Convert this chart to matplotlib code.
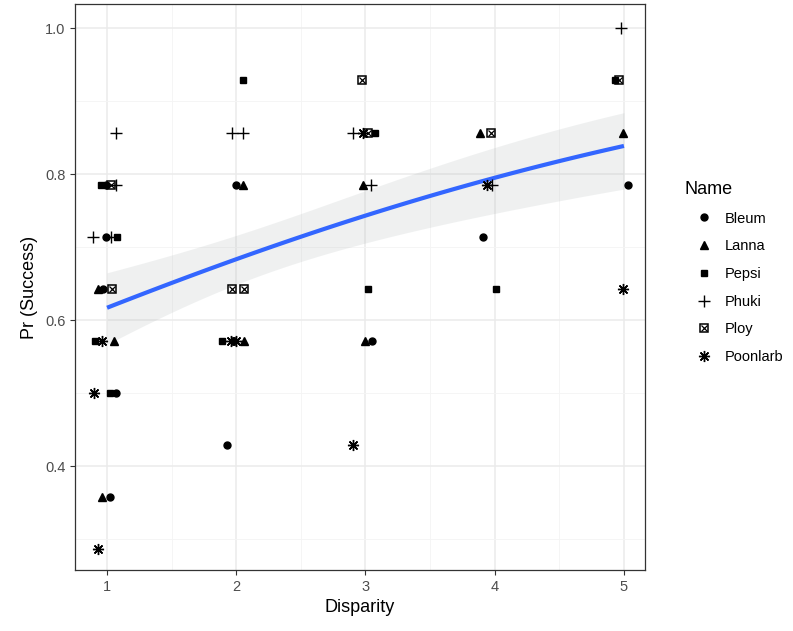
import matplotlib
matplotlib.use("Agg")
import matplotlib.pyplot as plt
import numpy as np
from matplotlib.lines import Line2D
from matplotlib.legend_handler import HandlerTuple

plt.rcParams['font.family'] = ['Liberation Sans', 'DejaVu Sans']

# jittered disparity / proportion of successes (out of 14 trials), per subject
bleum_x = [0.99, 0.99, 0.97, 1.07, 1.02, 2.00, 1.93, 3.05, 3.91, 5.03]
bleum_y = [0.786, 0.714, 0.643, 0.500, 0.357, 0.786, 0.429, 0.571, 0.714, 0.786]
lanna_x = [0.93, 1.05, 0.96, 2.05, 2.06, 2.98, 3.00, 3.89, 4.99]
lanna_y = [0.643, 0.571, 0.357, 0.786, 0.571, 0.786, 0.571, 0.857, 0.857]
pepsi_x = [0.95, 1.08, 0.91, 1.02, 2.05, 1.89, 3.07, 3.02, 4.01, 4.93]
pepsi_y = [0.786, 0.714, 0.571, 0.500, 0.929, 0.571, 0.857, 0.643, 0.643, 0.929]
phuki_x = [1.07, 1.07, 0.89, 1.03, 1.97, 2.05, 2.90, 3.04, 3.98, 4.98]
phuki_y = [0.857, 0.786, 0.714, 0.714, 0.857, 0.857, 0.857, 0.786, 0.786, 1.000]
ploy_x = [1.03, 1.04, 1.97, 2.06, 2.97, 3.02, 3.97, 4.96]
ploy_y = [0.786, 0.643, 0.643, 0.643, 0.929, 0.857, 0.857, 0.929]
poon_x = [0.96, 0.90, 0.93, 1.96, 2.00, 2.90, 2.98, 3.94, 4.99]
poon_y = [0.571, 0.500, 0.286, 0.571, 0.571, 0.429, 0.857, 0.786, 0.643]
n_trials = 14

names = ["Bleum", "Lanna", "Pepsi", "Phuki", "Ploy", "Poonlarb"]
xs = [bleum_x, lanna_x, pepsi_x, phuki_x, ploy_x, poon_x]
ys = [bleum_y, lanna_y, pepsi_y, phuki_y, ploy_y, poon_y]

fig = plt.figure(figsize=(7.93, 6.31), dpi=100)
ax = fig.add_axes([75 / 793, 1 - 570 / 631, 570 / 793, 566 / 631])

# logistic regression (binomial glm) on rounded disparity, like geom_smooth
X = np.round(np.concatenate(xs))
Y = np.concatenate(ys)
A = np.column_stack([np.ones_like(X), X])
beta = np.zeros(2)
for _ in range(30):
    eta = A @ beta
    p = 1 / (1 + np.exp(-eta))
    W = n_trials * p * (1 - p)
    z = eta + (Y - p) / (p * (1 - p))
    cov = np.linalg.inv(A.T @ (A * W[:, None]))
    beta = cov @ (A.T @ (W * z))
xg = np.linspace(1, 5, 80)
Ag = np.column_stack([np.ones_like(xg), xg])
eta_g = Ag @ beta
se = np.sqrt(np.einsum('ij,jk,ik->i', Ag, cov, Ag))
inv = lambda e: 1 / (1 + np.exp(-e))
ax.fill_between(xg, inv(eta_g - 1.96 * se), inv(eta_g + 1.96 * se),
                color='#A8B0B0', alpha=0.18, lw=0, zorder=2)
ax.plot(xg, inv(eta_g), color='#3366FF', lw=3, zorder=3, solid_capstyle='butt')

k = dict(color='black', linestyle='none', zorder=4)
ax.plot(bleum_x, bleum_y, marker='o', ms=5, **k)
ax.plot(lanna_x, lanna_y, marker='^', ms=6, **k)
ax.plot(pepsi_x, pepsi_y, marker='s', ms=5, **k)
ax.plot(phuki_x, phuki_y, marker='+', ms=8, mew=1, **k)
ax.plot(ploy_x, ploy_y, marker='s', ms=6, mfc='none', mew=1.1, **k)
ax.plot(ploy_x, ploy_y, marker='x', ms=5, mew=0.9, **k)
ax.plot(poon_x, poon_y, marker=(8, 2, 0), ms=8, mew=1, **k)

ax.set_xlim(0.752, 5.163)
ax.set_ylim(0.2575, 1.0335)
ax.set_xticks([1, 2, 3, 4, 5])
ax.set_yticks([0.4, 0.6, 0.8, 1.0])
ax.set_xticks([1.5, 2.5, 3.5, 4.5], minor=True)
ax.set_yticks([0.3, 0.5, 0.7, 0.9], minor=True)
ax.set_yticklabels(["0.4", "0.6", "0.8", "1.0"])
ax.grid(True, which='major', color='#EBEBEB', lw=1.1)
ax.grid(True, which='minor', color='#F4F4F4', lw=0.6)
ax.set_axisbelow(True)
ax.tick_params(which='major', length=3.5, width=0.8, color='#333333',
               labelcolor='#4D4D4D', labelsize=10.5)
ax.tick_params(which='minor', length=0)
for s in ax.spines.values():
    s.set_color('#333333')
    s.set_linewidth(0.9)
ax.set_xlabel("Disparity", fontsize=13, labelpad=4)
ax.set_ylabel("Pr (Success)", fontsize=13, labelpad=5)

hk = dict(color='black', linestyle='none')
handles = [
    Line2D([], [], marker='o', ms=5, **hk),
    Line2D([], [], marker='^', ms=6, **hk),
    Line2D([], [], marker='s', ms=5, **hk),
    Line2D([], [], marker='+', ms=8, mew=1, **hk),
    (Line2D([], [], marker='s', ms=6, mfc='none', mew=1.1, **hk),
     Line2D([], [], marker='x', ms=5, mew=0.9, **hk)),
    Line2D([], [], marker=(8, 2, 0), ms=8, mew=1, **hk),
]
leg = fig.legend(handles, names, loc='upper left', bbox_to_anchor=(679 / 793, 1 - 175 / 631),
                 frameon=False, title="Name", alignment='left', fontsize=10.5,
                 title_fontsize=13, labelspacing=0.94, handlelength=2.6,
                 handletextpad=0.15, borderaxespad=0,
                 handler_map={tuple: HandlerTuple(ndivide=1)})

fig.savefig("out.png", dpi=100)
